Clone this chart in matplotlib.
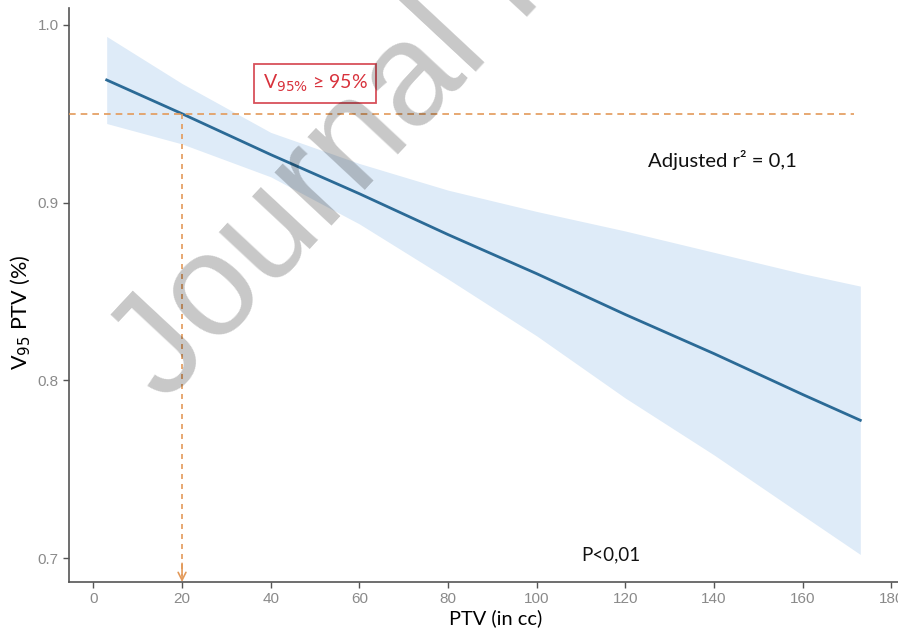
import matplotlib.pyplot as plt

# 数据：回归线和95%置信区间
ptv_cc = [3, 20, 40, 60, 80, 100, 120, 140, 160, 173]
v95_fit = [0.969, 0.950, 0.927, 0.905, 0.882, 0.860, 0.837, 0.815, 0.792, 0.7775]
ci_high = [0.9935, 0.967, 0.9395, 0.922, 0.907, 0.895, 0.884, 0.872, 0.860, 0.853]
ci_low = [0.9445, 0.933, 0.9145, 0.888, 0.857, 0.825, 0.790, 0.758, 0.724, 0.702]

threshold_x = 20
threshold_y = 0.95
x_ticks = [0, 20, 40, 60, 80, 100, 120, 140, 160, 180]
y_ticks = [0.7, 0.8, 0.9, 1.0]

label_font = 'Lato'
tick_font = 'Liberation Sans'
orange = '#e39a5a'

fig = plt.figure(figsize=(8.98, 6.43), dpi=100)
ax = fig.add_axes([69 / 898, 61 / 643, 829 / 898, 574 / 643])

# 置信区间 + 回归线
ax.fill_between(ptv_cc, ci_low, ci_high, color='#deebf8', linewidth=0, zorder=1)
ax.plot(ptv_cc, v95_fit, color='#2b6a96', linewidth=2, zorder=3)

ax.set_xlim(-5.5, 181.5)
ax.set_ylim(0.6865, 1.0095)

# 阈值虚线
ax.plot([-5.5, 171.5], [threshold_y, threshold_y], color=orange, linewidth=1.2,
        dashes=(4, 3), zorder=4)
ax.plot([threshold_x, threshold_x], [threshold_y, 0.69], color=orange, linewidth=1.2,
        dashes=(3, 3), zorder=4)
ax.annotate('', xy=(threshold_x, 0.6865), xytext=(threshold_x, 0.697),
            arrowprops=dict(arrowstyle='->', color=orange, lw=1.2,
                            mutation_scale=14, shrinkA=0, shrinkB=0), zorder=4)

# 文本注释
ax.text(50, 0.967, r'V$_{95\%}$' + ' ≥ 95%', color='#d8323c', fontsize=14,
        family=label_font, ha='center', va='center', zorder=5,
        bbox=dict(boxstyle='square,pad=0.45', facecolor='white',
                  edgecolor='#d8505a', linewidth=1.3))
ax.text(125, 0.924, 'Adjusted r² = 0,1', fontsize=14.6, family=label_font,
        ha='left', va='center', color='#111111', zorder=5)
ax.text(110, 0.702, 'P<0,01', fontsize=13.5, family=label_font,
        ha='left', va='center', color='#111111', zorder=5)

ax.set_xlabel('PTV (in cc)', fontsize=14.4, family=label_font)
ax.set_ylabel(r'V$_{95}$ PTV (%)', fontsize=15.5, family=label_font)
ax.xaxis.set_label_coords(0.515, -0.047)
ax.yaxis.set_label_coords(-0.044, 0.469)

ax.set_xticks(x_ticks)
ax.set_yticks(y_ticks)
ax.set_yticklabels([f'{v:.1f}' for v in y_ticks])
ax.tick_params(axis='both', colors='#555555', length=4, width=1, labelsize=11,
               labelcolor='#8a8a8a')
for lab in ax.get_xticklabels() + ax.get_yticklabels():
    lab.set_family(tick_font)

for side in ['top', 'right']:
    ax.spines[side].set_visible(False)
for side in ['left', 'bottom']:
    ax.spines[side].set_color('#555555')
    ax.spines[side].set_linewidth(1.2)

# 水印
fig.text(165 / 898, 1 - 405 / 643, 'Journal Pre-proof', fontsize=105, family=tick_font,
         color='black', alpha=0.22, rotation=47, rotation_mode='anchor',
         ha='left', va='baseline', zorder=10)

fig.savefig('out.png', dpi=100)
